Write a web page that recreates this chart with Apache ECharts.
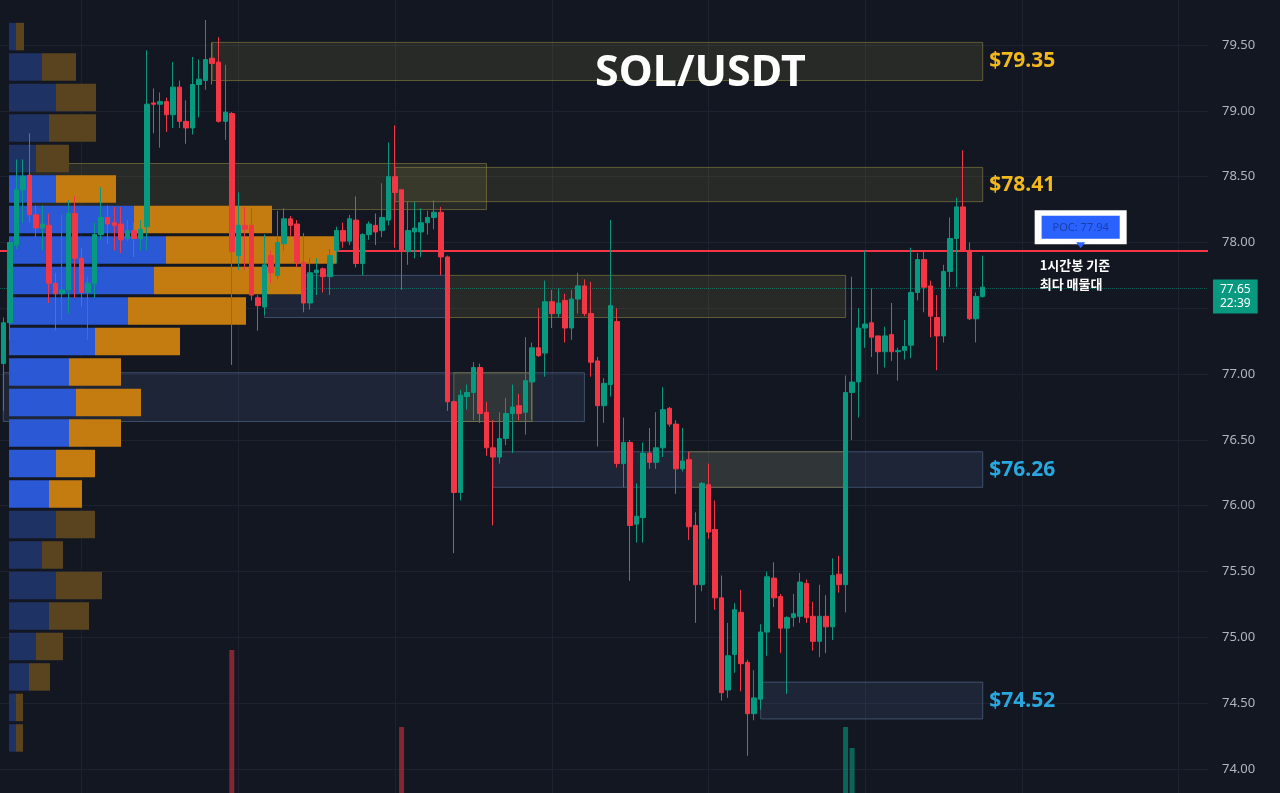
<!DOCTYPE html>
<html>
<head>
<meta charset="utf-8">
<title>SOL/USDT</title>
<script src="https://cdn.jsdelivr.net/npm/echarts@6.0.0/dist/echarts.min.js"></script>
<style>
html,body{margin:0;padding:0;background:#131722;}
#chart{width:1280px;height:793px;}
</style>
</head>
<body>
<div id="chart"></div>
<script>
// 1h candles, oldest first
var opens = [
 77.08,77.39,77.98,78.40,78.51,78.21,78.11,78.13,77.69,77.61,77.64,78.22,77.88,77.62,77.69,78.06,78.19,78.15,78.14,78.03,
 78.09,78.03,78.12,79.06,79.05,79.07,78.97,79.18,78.92,78.87,79.20,79.23,79.40,79.37,78.92,78.98,77.90,78.13,78.13,77.58,
 77.51,77.90,77.75,77.99,78.18,78.14,77.85,77.54,77.77,77.80,77.74,77.94,78.09,78.01,78.17,77.84,78.06,78.13,78.09,78.17,
 78.50,78.40,77.93,78.08,78.08,78.15,78.19,78.23,77.89,76.79,76.10,76.83,76.86,77.05,76.71,76.44,76.37,76.51,76.70,76.76,
 76.71,76.94,77.20,77.16,77.55,77.46,77.56,77.35,77.57,77.67,77.46,77.10,76.76,76.92,77.40,76.32,76.48,75.86,75.91,76.40,
 76.33,76.44,76.74,76.62,76.28,76.35,75.85,75.40,76.16,75.82,75.30,74.60,74.87,75.19,74.81,74.42,74.53,75.04,75.45,75.31,
 75.07,75.15,75.16,75.41,75.16,74.97,75.16,75.08,75.48,75.40,76.86,76.94,77.35,77.39,77.29,77.17,77.30,77.17,77.18,77.22,
 77.62,77.87,77.67,77.43,77.29,77.78,78.03,78.27,77.94,77.42,77.59
];
var closes = [
 77.39,78.00,78.40,78.50,78.21,78.11,78.14,77.69,77.61,77.64,78.22,77.88,77.62,77.69,78.06,78.19,78.14,78.13,78.02,78.09,
 78.03,78.10,79.05,79.05,79.07,78.97,79.18,78.92,78.87,79.20,79.24,79.39,79.36,78.92,78.99,77.93,78.13,78.10,77.60,77.52,
 77.83,77.77,78.00,78.18,78.13,77.85,77.54,77.77,77.79,77.74,77.90,78.09,78.01,78.18,77.84,78.06,78.14,78.08,78.19,78.50,
 78.38,77.94,78.09,78.11,78.15,78.19,78.23,77.89,76.79,76.10,76.84,76.86,77.05,76.70,76.44,76.37,76.51,76.70,76.75,76.70,
 76.95,77.20,77.14,77.55,77.46,77.54,77.35,77.57,77.67,77.46,77.09,76.76,76.93,77.52,76.32,76.48,75.85,75.92,76.40,76.33,
 76.44,76.73,76.62,76.28,76.34,75.84,75.40,76.17,75.80,75.30,74.58,74.86,75.21,74.80,74.42,74.54,75.04,75.46,75.30,75.07,
 75.15,75.18,75.42,75.15,74.97,75.16,75.08,75.47,75.40,76.86,76.94,77.35,77.38,77.28,77.17,77.29,77.17,77.18,77.21,77.62,
 77.87,77.66,77.44,77.29,77.78,78.03,78.27,77.94,77.42,77.59,77.66
];
var lows = [
 76.72,77.26,77.95,78.15,78.15,78.04,77.94,77.54,77.33,77.41,77.46,77.58,77.51,77.26,77.58,78.02,77.99,77.94,77.92,78.01,
 77.89,77.94,77.94,78.83,78.72,78.84,78.87,78.87,78.75,78.82,78.95,79.16,79.20,78.91,78.78,77.07,77.79,77.79,77.56,77.33,
 77.45,77.69,77.72,77.94,78.05,77.81,77.47,77.49,77.60,77.62,77.60,77.84,77.96,77.98,77.81,77.75,78.02,77.98,78.04,78.13,
 77.96,77.64,77.83,77.88,77.89,78.06,78.10,77.75,76.72,75.64,76.04,76.73,76.65,76.63,76.38,75.85,76.32,76.46,76.40,76.65,
 76.54,76.65,77.13,76.98,77.35,77.43,77.24,77.26,77.46,77.44,76.98,76.45,76.63,76.83,76.29,76.14,75.43,75.72,75.72,76.28,
 76.28,76.37,76.60,76.09,76.26,75.74,75.11,75.35,75.75,75.21,74.52,74.54,74.73,74.59,74.10,74.37,74.45,74.86,75.23,74.88,
 74.57,75.08,75.11,75.11,74.90,74.85,74.88,74.98,75.34,75.19,76.50,76.67,77.20,77.13,77.00,77.05,77.10,76.95,77.11,77.12,
 77.56,77.47,77.28,77.03,77.24,77.66,77.66,77.94,77.41,77.24,77.58
];
var highs = [
 77.43,78.02,78.63,78.63,78.83,78.28,78.28,78.22,77.77,78.21,78.32,78.35,77.96,77.74,78.15,78.42,78.28,78.27,78.27,78.17,
 78.15,78.17,79.46,79.17,79.14,79.10,79.37,79.23,79.08,79.41,79.39,79.69,79.52,79.56,79.35,78.99,78.38,78.27,78.26,77.60,
 78.06,77.94,78.24,78.26,78.20,78.17,78.07,77.88,77.88,77.81,77.95,78.12,78.15,78.21,78.35,78.07,78.16,78.22,78.45,78.76,
 78.89,78.40,78.31,78.31,78.26,78.24,78.32,78.27,77.90,76.80,76.88,76.92,77.09,77.08,76.79,76.65,76.71,76.82,76.92,76.85,
 77.28,77.24,77.50,77.71,77.64,77.65,77.61,77.64,77.77,77.72,77.70,77.13,76.97,78.17,77.50,76.67,76.50,76.17,76.48,76.59,
 76.71,76.90,76.75,76.65,76.59,76.41,75.95,76.18,76.32,76.04,75.47,75.11,75.26,75.36,74.83,74.75,75.10,75.50,75.57,75.33,
 75.16,75.33,75.49,75.44,75.27,75.40,75.32,75.60,75.62,76.99,77.74,77.50,77.94,77.65,77.29,77.36,77.54,77.20,77.41,77.96,
 77.92,77.93,77.71,77.60,77.83,78.19,78.34,78.70,78.00,77.62,77.90
];

// only the volume bars that reach into view
var volIdx = [35, 61, 129, 130];
var volVal = [143, 66, 66, 45];

// volume profile rows, top (highest price) to bottom
var profBuy  = [7,33,47,40,27,47,125,157,145,119,86,60,67,60,47,40,47,33,47,40,27,20,7,7];
var profSell = [8,34,40,47,33,60,138,170,149,118,85,52,65,52,39,33,39,21,46,40,27,21,7,7];
var profLow = 74.12, profHigh = 79.68;
var vaLow = 75.97, vaHigh = 78.52;
var poc = 77.94;
var lastPrice = 77.65;

// zones: [fromCandle, toCandle, low, high, kind, label]
var zones = [
  [32, 150, 79.23, 79.52, 'y', '$79.35'],
  [4, 74, 78.25, 78.60, 'y', ''],
  [60, 150, 78.31, 78.57, 'y', '$78.41'],
  [40, 68, 77.43, 77.75, 'b', ''],
  [68, 129, 77.43, 77.75, 'y', ''],
  [0, 89, 76.64, 77.01, 'b', ''],
  [69, 81, 76.64, 77.01, 'y', ''],
  [75, 150, 76.14, 76.41, 'b', '$76.26'],
  [105, 129, 76.14, 76.41, 'y', ''],
  [116, 150, 74.38, 74.66, 'b', '$74.52']
];

var futureSlots = 34;
var cats = [];
for (var i = 0; i < opens.length + futureSlots; i++) {
  var h = (i - 12 + 240) % 24;
  cats.push('D' + Math.floor((i + 12) / 24) + ' ' + (h < 10 ? '0' : '') + h + ':00');
}

var candles = [];
for (var i = 0; i < opens.length; i++) {
  candles.push([opens[i], closes[i], lows[i], highs[i]]);
}

var volData = [];
for (var i = 0; i < opens.length; i++) volData.push(null);
volIdx.forEach(function (k, j) {
  var up = closes[k] >= opens[k];
  volData[k] = {value: volVal[j], itemStyle: {color: up ? 'rgba(8,153,129,0.6)' : 'rgba(242,54,69,0.5)'}};
});

var rows = profBuy.length;
var step = (profHigh - profLow) / rows;
var profData = [];
for (var r = 0; r < rows; r++) {
  var hi = profHigh - r * step, lo = hi - step, mid = (hi + lo) / 2;
  profData.push([lo, hi, profBuy[r], profSell[r], (mid >= vaLow && mid <= vaHigh) ? 1 : 0]);
}

var zoneStyle = {
  y: {color: 'rgba(120,115,60,0.22)', borderColor: 'rgba(150,140,70,0.55)', borderWidth: 1},
  b: {color: 'rgba(70,95,135,0.2)', borderColor: 'rgba(95,120,160,0.55)', borderWidth: 1}
};
var zoneText = {y: '#f2b81c', b: '#29a8e0'};
var areaData = zones.map(function (z) {
  return [{
    xAxis: cats[z[0]], yAxis: z[3],
    itemStyle: zoneStyle[z[4]],
    label: {show: z[5] !== '', position: 'right', distance: 6, formatter: z[5],
      color: zoneText[z[4]], fontSize: 21, fontWeight: 'bold', fontFamily: 'Noto Sans'}
  }, {xAxis: cats[z[1]], yAxis: z[2]}];
});

var dayLines = [];
for (var i = 12; i < cats.length; i += 24) {
  dayLines.push({xAxis: cats[i]});
}

var chart = echarts.init(document.getElementById('chart'));
var top0 = -20.8, bottom0 = -41.8;

chart.setOption({
  backgroundColor: '#131722',
  animation: false,
  title: {
    text: 'SOL/USDT', left: 590, top: 47,
    textStyle: {color: '#ffffff', fontSize: 43, fontWeight: 'bold', fontFamily: 'Noto Sans'}
  },
  grid: [
    {left: 0, right: 72, top: top0, bottom: bottom0, outerBoundsMode: 'none'},
    {left: 9, right: 71, top: top0, bottom: bottom0, outerBoundsMode: 'none'},
    {left: 0, right: 72, top: 593, bottom: 0, outerBoundsMode: 'none'}
  ],
  xAxis: [
    {type: 'category', data: cats, gridIndex: 0, show: false, boundaryGap: true},
    {type: 'value', gridIndex: 1, min: 0, max: 1200, show: false},
    {type: 'category', data: cats, gridIndex: 2, show: false, boundaryGap: true}
  ],
  yAxis: [
    {
      type: 'value', gridIndex: 0, position: 'right', min: 73.5, max: 80, interval: 0.5, scale: true,
      axisLine: {show: false}, axisTick: {show: false},
      axisLabel: {color: '#b2b5be', fontSize: 13, margin: 14, fontFamily: 'Noto Sans',
        formatter: function (v) { return v.toFixed(2); }},
      splitLine: {lineStyle: {color: '#1e2230', width: 1}}
    },
    {type: 'value', gridIndex: 1, min: 73.5, max: 80, show: false},
    {type: 'value', gridIndex: 2, min: 0, max: 200, show: false}
  ],
  series: [
    {
      name: 'days', type: 'line', xAxisIndex: 0, yAxisIndex: 0, data: [], z: 0, silent: true,
      markLine: {
        silent: true, z: 0, symbol: ['none', 'none'], label: {show: false},
        lineStyle: {color: '#1e2230', width: 1, type: 'solid'},
        data: dayLines
      }
    },
    {
      name: 'zones', type: 'line', xAxisIndex: 0, yAxisIndex: 0, data: [], z: 1, silent: true,
      markArea: {silent: true, z: 1, data: areaData},
      markLine: {
        silent: true, z: 1, symbol: ['none', 'none'], label: {show: false},
        data: [
          {yAxis: poc, lineStyle: {color: '#f23645', width: 2, type: 'solid'}},
          {yAxis: lastPrice, lineStyle: {color: 'rgba(8,153,129,0.55)', width: 1, type: 'dotted'},
            label: {show: true, position: 'end', distance: 5, formatter: '77.65\n22:39',
              backgroundColor: '#089981', color: '#ffffff', fontSize: 12, lineHeight: 14,
              padding: [3, 7], fontFamily: 'Noto Sans', offset: [0, 8]}}
        ]
      }
    },
    {
      name: 'profile', type: 'custom', xAxisIndex: 1, yAxisIndex: 1, z: 2, silent: true,
      data: profData,
      encode: {x: [2, 3], y: [0, 1]},
      renderItem: function (params, api) {
        var lo = api.value(0), hi = api.value(1), buy = api.value(2), sell = api.value(3);
        var pTop = api.coord([0, hi]);
        var pBot = api.coord([0, lo]);
        var pBuy = api.coord([buy, lo]);
        var pSell = api.coord([buy + sell, lo]);
        var y = pTop[1] + 1.5, hgt = pBot[1] - pTop[1] - 3;
        var bright = api.value(4) === 1;
        return {type: 'group', children: [
          {type: 'rect', shape: {x: pTop[0], y: y, width: pBuy[0] - pTop[0], height: hgt},
            style: {fill: bright ? '#2b58d4' : '#1e3264'}},
          {type: 'rect', shape: {x: pBuy[0], y: y, width: pSell[0] - pBuy[0], height: hgt},
            style: {fill: bright ? '#c47c10' : '#5a4420'}}
        ]};
      }
    },
    {
      name: 'SOL/USDT', type: 'candlestick', xAxisIndex: 0, yAxisIndex: 0, z: 3,
      data: candles, barWidth: 5,
      itemStyle: {color: '#089981', color0: '#f23645', borderColor: '#089981', borderColor0: '#f23645', borderWidth: 1},
      markPoint: {
        silent: true,
        data: [
          {coord: [cats[165], poc], symbol: 'rect', symbolSize: [92, 34], symbolOffset: [0, -23],
            itemStyle: {color: '#ffffff'},
            label: {show: true, position: 'inside', formatter: 'POC: 77.94', backgroundColor: '#2962ff',
              color: '#1c3fa8', fontSize: 11, padding: [6, 11], fontFamily: 'Noto Sans'}},
          {coord: [cats[165], poc], symbol: 'triangle', symbolRotate: 180, symbolSize: [9, 6], symbolOffset: [0, -5],
            itemStyle: {color: '#2962ff'}, label: {show: false}},
          {coord: [cats[165], poc], symbol: 'rect', symbolSize: [84, 40], symbolOffset: [-4, 24],
            itemStyle: {color: 'rgba(0,0,0,0)'},
            label: {show: true, position: 'insideLeft', formatter: '1시간봉 기준\n최다 매물대',
              color: '#ffffff', fontSize: 13, lineHeight: 19, fontWeight: 'bold',
              fontFamily: 'Noto Sans CJK KR'}}
        ]
      }
    },
    {
      name: 'volume', type: 'bar', xAxisIndex: 2, yAxisIndex: 2, z: 0, barWidth: 5, silent: true,
      data: volData
    }
  ]
});
</script>
</body>
</html>
